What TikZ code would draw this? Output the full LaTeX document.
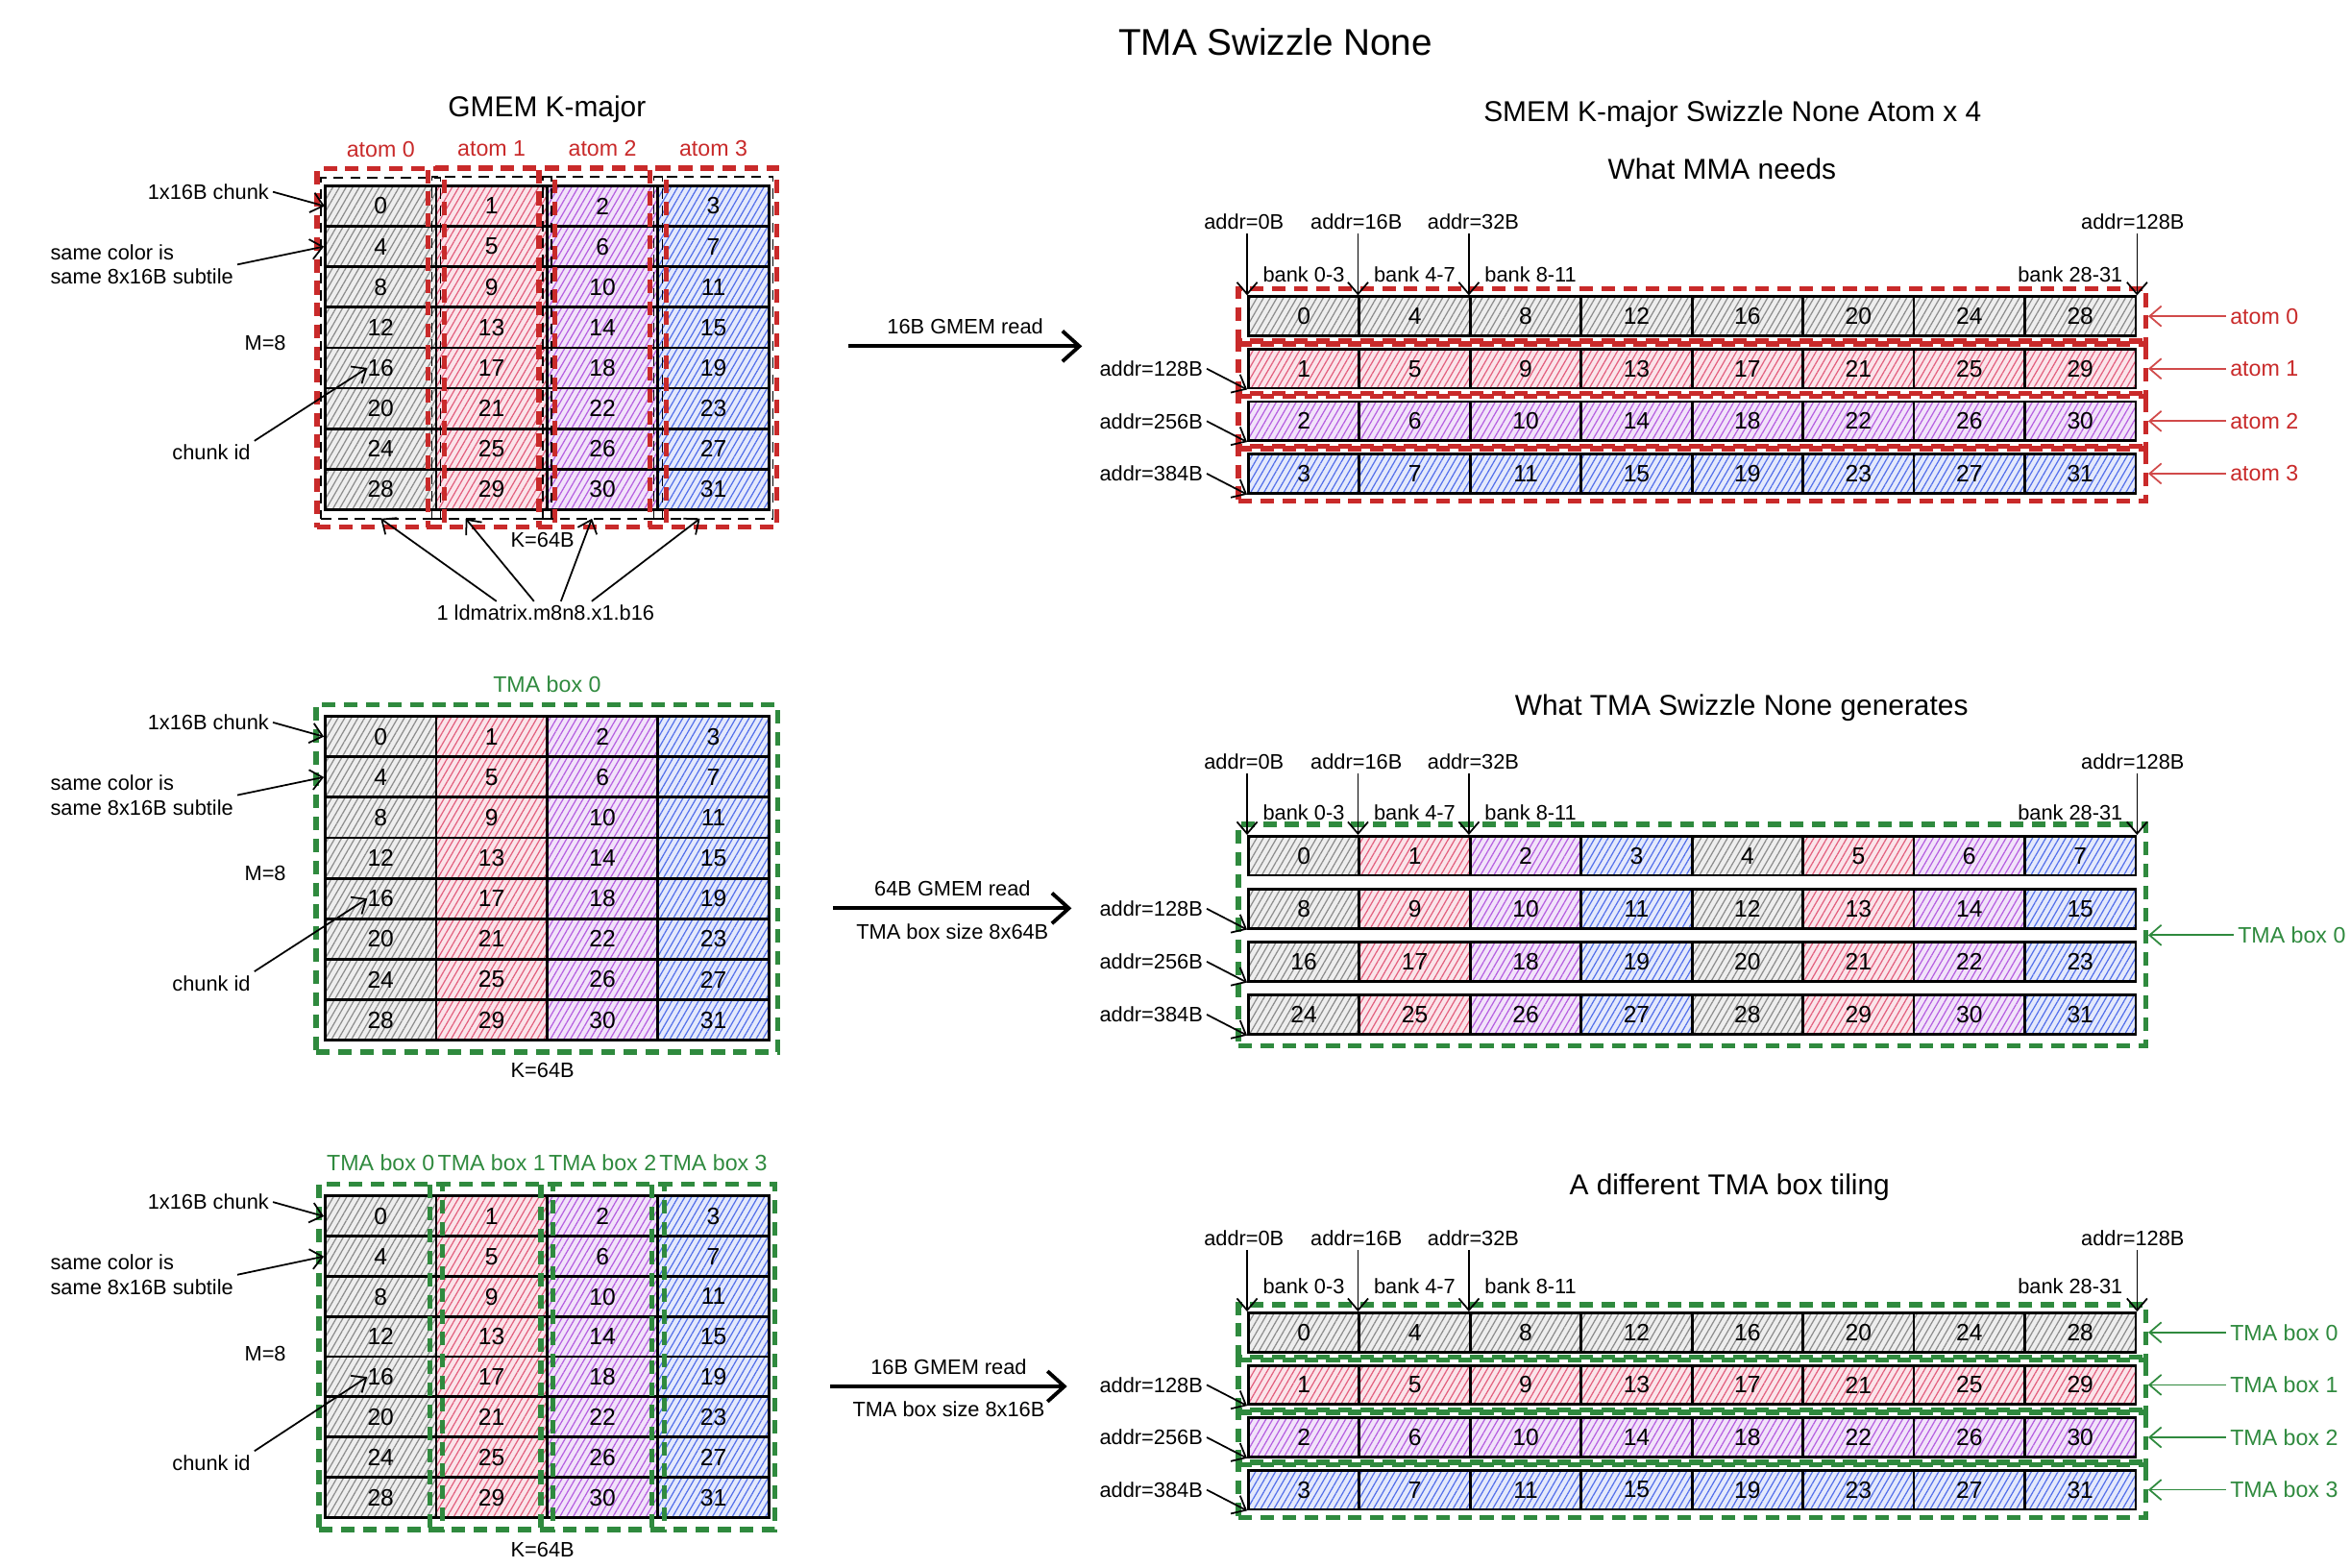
\documentclass[tikz,border=0pt]{standalone}
\usepackage{fontspec}
\setmainfont{Liberation Sans}
\usetikzlibrary{arrows.meta,patterns.meta,fit}

\definecolor{gLn}{HTML}{8C8C8C}
\definecolor{gBg}{HTML}{EEEEEE}
\definecolor{rLn}{HTML}{E2607E}
\definecolor{rBg}{HTML}{FBE4EA}
\definecolor{pLn}{HTML}{B55FE0}
\definecolor{pBg}{HTML}{F2E3FA}
\definecolor{bLn}{HTML}{5470EA}
\definecolor{bBg}{HTML}{E4E9FC}
\definecolor{atomred}{HTML}{C92A2A}
\definecolor{tmagreen}{HTML}{2F8A3E}

\tikzset{
  hz/.style={preaction={fill=#1Bg}, pattern={Lines[angle=60,distance=1.7pt,line width=0.35pt]}, pattern color=#1Ln},
  hz0/.style={hz=g}, hz1/.style={hz=r}, hz2/.style={hz=p}, hz3/.style={hz=b},
  cellL/.style={draw=black, line width=0.8pt, minimum width=1.154cm, minimum height=0.421cm, inner sep=0pt, font=\fontsize{7}{8}\selectfont},
  cellR/.style={cellL, minimum height=0.406cm},
  redbox/.style={draw=atomred, line width=1.5pt, dash pattern=on 4pt off 2.5pt},
  greenbox/.style={draw=tmagreen, line width=1.5pt, dash pattern=on 4pt off 2.5pt},
  blkbox/.style={draw=black, line width=0.4pt, dash pattern=on 3pt off 2pt},
  arr/.style={-{Straight Barb[length=3.5pt,width=6pt]}, line width=0.5pt},
  bigarr/.style={-{Straight Barb[length=5pt,width=9pt]}, line width=1.1pt},
  redarr/.style={arr, draw=atomred!85},
  grnarr/.style={arr, draw=tmagreen},
  lbl/.style={font=\fontsize{6.2}{7.2}\selectfont, inner sep=1pt},
  redlbl/.style={font=\fontsize{6.6}{7.5}\selectfont, inner sep=1pt, text=atomred},
  grnlbl/.style={font=\fontsize{6.6}{7.5}\selectfont, inner sep=1pt, text=tmagreen},
  ttl/.style={font=\fontsize{8.5}{10}\selectfont, inner sep=1pt},
}

% left-side notes of a GMEM grid: #1 grid prefix, #2 vertical offset
\newcommand\leftnotes[2]{%
  \node[lbl] (#1chunk) at (139,128+#2) {1x16B chunk};
  \draw[arr] (#1chunk.east) -- (#10.west);
  \node[lbl, align=left, anchor=west] (#1same) at (31,176.5+#2) {same color is\\same 8x16B subtile};
  \draw[arr] (#1same.east) -- (#14.west);
  \node[lbl] (#1m) at (177,229+#2) {M=8};
  \node[lbl] (#1cid) at (141,302+#2) {chunk id};
  \draw[arr] (#1cid.north east) -- ([xshift=-0.14cm]#116.center);
  \node[lbl] (#1k) at (362,360+#2) {K=64B};
}

% top address and bank labels: #1 prefix, #2 label y, #3 bank y, #4 #5 #6 ids of cols 1,2,7 in row 0
\newcommand\addrtop[6]{%
  \node[lbl] (#1a0) at (830,#2) {addr=0B};
  \node[lbl] (#1a1) at (905,#2) {addr=16B};
  \node[lbl] (#1a2) at (983,#2) {addr=32B};
  \node[lbl] (#1a3) at (1423,#2) {addr=128B};
  \draw[arr] (#10.north west |- #1a0.south) -- (#10.north west);
  \draw[arr] (#1#4.north west |- #1a1.south) -- (#1#4.north west);
  \draw[arr] (#1#5.north west |- #1a2.south) -- (#1#5.north west);
  \draw[arr] (#1#6.north east |- #1a3.south) -- (#1#6.north east);
  \node[lbl, anchor=west] (#1b0) at (840,#3) {bank 0-3};
  \node[lbl, anchor=west] (#1b1) at (914,#3) {bank 4-7};
  \node[lbl, anchor=west] (#1b2) at (988,#3) {bank 8-11};
  \node[lbl, anchor=east] (#1b3) at (1419,#3) {bank 28-31};
}

% left address labels of rows 1..3: #1 prefix, #2 #3 #4 ids of first cells
\newcommand\addrleft[4]{%
  \node[lbl, anchor=east] (#1l1) at ([xshift=-0.42cm]#1#2.west) {addr=128B};
  \draw[arr] (#1l1.east) -- (#1#2.south west);
  \node[lbl, anchor=east] (#1l2) at ([xshift=-0.42cm]#1#3.west) {addr=256B};
  \draw[arr] (#1l2.east) -- (#1#3.south west);
  \node[lbl, anchor=east] (#1l3) at ([xshift=-0.42cm]#1#4.west) {addr=384B};
  \draw[arr] (#1l3.east) -- (#1#4.south west);
}

\begin{document}
\begin{tikzpicture}[x=0.0156cm, y=-0.0156cm]
\fill[white] (0,0) rectangle (1568,1046);
\useasboundingbox (0,0) rectangle (1568,1046);

\node[font=\fontsize{11}{13}\selectfont] (title) at (851,28) {TMA Swizzle None};

% ================= Section 1 =================
\node[ttl] (t1) at (365,73) {GMEM K-major};
\foreach \r in {0,...,7} \foreach \c in {0,...,3} {
  \pgfmathtruncatemacro\nn{4*\r+\c}
  \node[cellL, hz\c] (A\nn) at (254+74*\c, 137.5+27*\r) {\nn};
}
\foreach \c in {0,...,3} {
  \pgfmathtruncatemacro\lastid{28+\c}
  \node[blkbox, fit=(A\c)(A\lastid), inner xsep=0.03cm, inner ysep=0.08cm] (Ainner\c) {};
  \node[redbox, fit=(A\c)(A\lastid), inner xsep=0.07cm, inner ysep=0.17cm] (Acol\c) {};
  \node[redlbl, anchor=south, yshift=1.5pt] (Atl\c) at (Acol\c.north) {atom \c};
}
\leftnotes{A}{0}
\node[lbl] (ldm) at (364,409) {1 ldmatrix.m8n8.x1.b16};
\draw[arr] ([xshift=-0.51cm]ldm.north) -- ([yshift=-0.08cm]A28.south);
\draw[arr] ([xshift=-0.12cm]ldm.north) -- ([xshift=-0.27cm,yshift=-0.08cm]A29.south);
\draw[arr] ([xshift=0.16cm]ldm.north) -- ([xshift=-0.11cm,yshift=-0.08cm]A30.south);
\draw[arr] ([xshift=0.48cm]ldm.north) -- ([xshift=-0.14cm,yshift=-0.08cm]A31.south);

\coordinate (m1a) at (566,231);
\coordinate (m1b) at (722,231);
\draw[bigarr] (m1a) -- node[lbl, above=2pt] (m1t) {16B GMEM read} (m1b);

\node[ttl] (t2) at (1156,76) {SMEM K-major Swizzle None Atom x 4};
\node[ttl] (t3) at (1149,113) {What MMA needs};
\foreach \r in {0,...,3} \foreach \c in {0,...,7} {
  \pgfmathtruncatemacro\nn{4*\c+\r}
  \node[cellR, hz\r] (D\nn) at (870+74*\c, 211+35*\r) {\nn};
}
\foreach \r in {0,...,3} {
  \pgfmathtruncatemacro\lastid{28+\r}
  \node[redbox, fit=(D\r)(D\lastid), inner xsep=0.09cm, inner ysep=0.07cm] (Drow\r) {};
  \node[redlbl, anchor=west] (Dt\r) at ([xshift=0.81cm]Drow\r.east) {atom \r};
  \draw[redarr] (Dt\r.west) -- (Drow\r.east);
}
\addrtop{D}{148}{183}{4}{8}{28}
\addrleft{D}{1}{2}{3}

% ================= Section 2 =================
\foreach \r in {0,...,7} \foreach \c in {0,...,3} {
  \pgfmathtruncatemacro\nn{4*\r+\c}
  \node[cellL, hz\c] (B\nn) at (254+74*\c, 491.5+27*\r) {\nn};
}
\node[greenbox, fit=(B0)(B31), inner xsep=0.08cm, inner ysep=0.11cm] (Bbox) {};
\node[grnlbl, anchor=south, yshift=1.5pt] (Btl) at (Bbox.north) {TMA box 0};
\leftnotes{B}{354}

\coordinate (m2a) at (556,606);
\coordinate (m2b) at (715,606);
\draw[bigarr] (m2a) -- node[lbl, above=2pt] (m2t) {64B GMEM read}
  node[lbl, below=3pt] (m2u) {TMA box size 8x64B} (m2b);

\node[ttl] (t4) at (1162,472) {What TMA Swizzle None generates};
\foreach \r in {0,...,3} \foreach \c in {0,...,7} {
  \pgfmathtruncatemacro\nn{8*\r+\c}
  \pgfmathtruncatemacro\kk{mod(\c,4)}
  \node[cellR, hz\kk] (E\nn) at (870+74*\c, 571+35.3*\r) {\nn};
}
\node[greenbox, fit=(E0)(E31), inner xsep=0.09cm, inner ysep=0.11cm] (Ebox) {};
\node[grnlbl, anchor=west] (Et0) at ([xshift=0.89cm]Ebox.east) {TMA box 0};
\draw[grnarr] (Et0.west) -- (Ebox.east);
\addrtop{E}{508}{542}{1}{2}{7}
\addrleft{E}{8}{16}{24}

% ================= Section 3 =================
\foreach \r in {0,...,7} \foreach \c in {0,...,3} {
  \pgfmathtruncatemacro\nn{4*\r+\c}
  \node[cellL, hz\c] (C\nn) at (254+74*\c, 811.5+26.8*\r) {\nn};
}
\foreach \c in {0,...,3} {
  \pgfmathtruncatemacro\lastid{28+\c}
  \node[greenbox, fit=(C\c)(C\lastid), inner xsep=0.05cm, inner ysep=0.11cm] (Ccol\c) {};
  \node[grnlbl, anchor=south, yshift=2pt] (Ctl\c) at (Ccol\c.north) {TMA box \c};
}
\leftnotes{C}{674}

\coordinate (m3a) at (554,925);
\coordinate (m3b) at (712,925);
\draw[bigarr] (m3a) -- node[lbl, above=2pt] (m3t) {16B GMEM read}
  node[lbl, below=3pt] (m3u) {TMA box size 8x16B} (m3b);

\node[ttl] (t5) at (1154,792) {A different TMA box tiling};
\foreach \r in {0,...,3} \foreach \c in {0,...,7} {
  \pgfmathtruncatemacro\nn{4*\c+\r}
  \node[cellR, hz\r] (F\nn) at (870+74*\c, 889+35*\r) {\nn};
}
\foreach \r in {0,...,3} {
  \pgfmathtruncatemacro\lastid{28+\r}
  \node[greenbox, fit=(F\r)(F\lastid), inner xsep=0.09cm, inner ysep=0.07cm] (Frow\r) {};
  \node[grnlbl, anchor=west] (Ft\r) at ([xshift=0.81cm]Frow\r.east) {TMA box \r};
  \draw[grnarr] (Ft\r.west) -- (Frow\r.east);
}
\addrtop{F}{826}{858}{4}{8}{28}
\addrleft{F}{1}{2}{3}
\end{tikzpicture}
\end{document}
